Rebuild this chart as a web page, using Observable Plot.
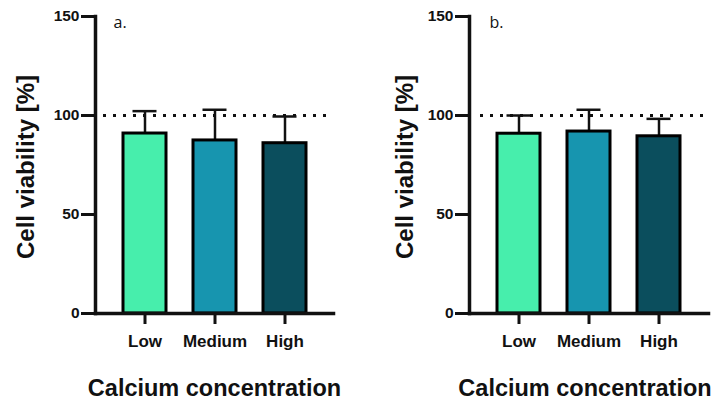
<!DOCTYPE html>
<html>
<head>
<meta charset="utf-8">
<script src="https://cdn.jsdelivr.net/npm/d3@7"></script>
<script src="https://cdn.jsdelivr.net/npm/@observablehq/plot@0.6"></script>
<style>
  html, body { margin: 0; padding: 0; background: #fff; }
  #wrap { display: flex; width: 720px; height: 400px; }
  #wrap svg { display: block; overflow: visible; }
</style>
</head>
<body>
<div id="wrap"></div>
<script>
const categories = ["Low", "Medium", "High"];
const colors = ["#47EEAC", "#1795AF", "#0B4E5D"];
const meanA = [90.9, 87.4, 86.0];
const sdA = [11.3, 15.5, 13.5];
const meanB = [90.8, 91.9, 89.5];
const sdB = [9.2, 11.0, 8.8];
const yTicks = [0, 50, 100, 150];
const refValue = 100;
const panelLabels = ["a.", "b."];
const yTitle = "Cell viability [%]";
const xTitle = "Calcium concentration";

const boldFont = "'Liberation Sans', Arial, Helvetica, sans-serif";

function panel(means, sds, label, cfg) {
  const data = categories.map((c, i) => ({cat: c, mean: means[i], upper: means[i] + sds[i], color: colors[i]}));
  return Plot.plot({
    width: 360,
    height: 400,
    marginLeft: cfg.left,
    marginRight: cfg.right,
    marginTop: 16,
    marginBottom: 87,
    style: {fontFamily: boldFont, background: "white", overflow: "visible"},
    x: {domain: categories, paddingInner: 0.39, paddingOuter: 0.39, axis: null},
    y: {domain: [0, 150], axis: null},
    color: {type: "identity"},
    marks: [
      Plot.ruleY([refValue], {stroke: "#111", strokeWidth: 3, strokeDasharray: "3,7", insetLeft: cfg.dotL, insetRight: 4}),
      Plot.ruleX(data, {x: "cat", y1: "mean", y2: "upper", stroke: "#111", strokeWidth: 2.5}),
      Plot.tickY(data, {x: "cat", y: "upper", stroke: "#111", strokeWidth: 2.5, insetLeft: 9.5, insetRight: 9.5}),
      Plot.barY(data, {x: "cat", y: "mean", fill: "color", stroke: "#000", strokeWidth: 3}),
      Plot.axisY({ticks: yTicks, tickSize: 14, tickPadding: 2, strokeWidth: 3, stroke: "#111",
        fontSize: 15.5, fontWeight: "bold", fill: "#111", label: null}),
      Plot.axisX({tickSize: 11, tickPadding: 10, strokeWidth: 3, stroke: "#111",
        fontSize: 17, fontWeight: "bold", fill: "#111", label: null}),
      Plot.frame({anchor: "left", stroke: "#111", strokeWidth: 3.5}),
      Plot.frame({anchor: "bottom", stroke: "#111", strokeWidth: 3.5}),
      Plot.text([yTitle], {frameAnchor: "left", rotate: -90, textAnchor: "middle", lineAnchor: "bottom", dx: cfg.ytDx, dy: 2,
        fontSize: 24, fontWeight: "bold", fill: "#111", fontFamily: boldFont}),
      Plot.text([xTitle], {frameAnchor: "bottom", textAnchor: "middle", lineAnchor: "bottom", dx: cfg.xtDx, dy: 82,
        fontSize: 23.5, fontWeight: "bold", fill: "#111", fontFamily: boldFont}),
      Plot.text([label], {frameAnchor: "top-left", textAnchor: "start", lineAnchor: "bottom", dx: cfg.lblDx, dy: 11,
        fontSize: 16, fill: "#111", fontFamily: "'Open Sans', 'Liberation Sans', sans-serif"})
    ]
  });
}

const wrap = document.getElementById("wrap");
wrap.appendChild(panel(meanA, sdA, panelLabels[0], {left: 95, right: 27, dotL: 8, ytDx: -62, xtDx: 0, lblDx: 18}));
wrap.appendChild(panel(meanB, sdB, panelLabels[1], {left: 109, right: 12, dotL: 11, ytDx: -57, xtDx: -4, lblDx: 20}));
</script>
</body>
</html>
